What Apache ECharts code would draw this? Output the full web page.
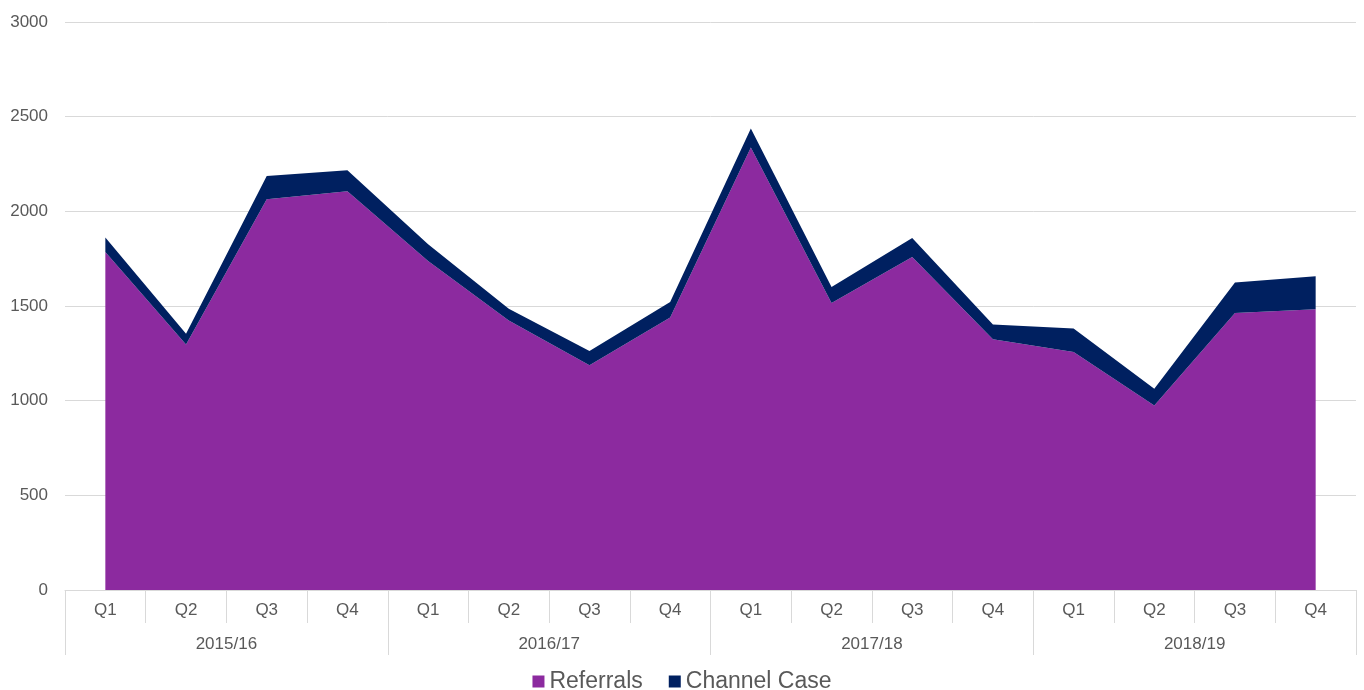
<!DOCTYPE html>
<html>
<head>
<meta charset="utf-8">
<script src="https://cdn.jsdelivr.net/npm/echarts@6/dist/echarts.min.js"></script>
<style>
    html, body { margin: 0; padding: 0; background: #fff; }
    #main { width: 1364px; height: 690px; }
</style>
</head>
<body>
<div id="main"></div>
<script>
var quarters = ['Q1', 'Q2', 'Q3', 'Q4', 'Q1', 'Q2', 'Q3', 'Q4',
                'Q1', 'Q2', 'Q3', 'Q4', 'Q1', 'Q2', 'Q3', 'Q4'];
var years = ['2015/16', '2016/17', '2017/18', '2018/19'];

var referrals = [1785, 1296, 2064, 2106, 1738, 1424, 1187, 1439,
                 2337, 1516, 1759, 1324, 1257, 975, 1463, 1483];
var channelCase = [77, 58, 123, 111, 88, 62, 75, 82,
                   101, 84, 100, 78, 124, 88, 161, 174];

var yTicks = { min: 0, max: 3000, interval: 500 };

var grey = '#595959';
var lineGrey = '#d9d9d9';
var font = '"Liberation Sans", Arial, sans-serif';

var chart = echarts.init(document.getElementById('main'));

var option = {
    backgroundColor: '#fff',
    animation: false,
    textStyle: { fontFamily: font },
    grid: { left: 65, right: 8, top: 22, bottom: 100 },
    legend: {
        top: 665,
        left: 'center',
        icon: 'rect',
        itemWidth: 12,
        itemHeight: 12,
        itemGap: 26,
        textStyle: { color: grey, fontSize: 23, fontFamily: font },
        data: ['Referrals', 'Channel Case']
    },
    xAxis: [
        {
            type: 'category',
            data: quarters,
            boundaryGap: true,
            axisLine: { lineStyle: { color: lineGrey } },
            axisTick: { show: true, length: 33, interval: 0, lineStyle: { color: lineGrey } },
            axisLabel: { color: grey, fontSize: 17, margin: 12, interval: 0 }
        },
        {
            type: 'category',
            data: years,
            position: 'bottom',
            boundaryGap: true,
            axisLine: { show: false },
            axisTick: { show: true, length: 65, interval: 0, lineStyle: { color: lineGrey } },
            axisLabel: { color: grey, fontSize: 17, margin: 46, interval: 0 }
        }
    ],
    yAxis: {
        type: 'value',
        min: yTicks.min,
        max: yTicks.max,
        interval: yTicks.interval,
        axisLine: { show: false },
        axisTick: { show: false },
        axisLabel: {
            color: grey, fontSize: 17, margin: 17,
            formatter: function (v) { return String(v); }
        },
        splitLine: { lineStyle: { color: lineGrey, width: 1 } }
    },
    series: [
        {
            name: 'Referrals',
            type: 'line',
            stack: 'total',
            data: referrals,
            symbol: 'none',
            lineStyle: { width: 0 },
            itemStyle: { color: '#8c2a9f' },
            areaStyle: { color: '#8c2a9f', opacity: 1 }
        },
        {
            name: 'Channel Case',
            type: 'line',
            stack: 'total',
            data: channelCase,
            symbol: 'none',
            lineStyle: { width: 0 },
            itemStyle: { color: '#002060' },
            areaStyle: { color: '#002060', opacity: 1 }
        }
    ]
};

chart.setOption(option);
</script>
</body>
</html>
